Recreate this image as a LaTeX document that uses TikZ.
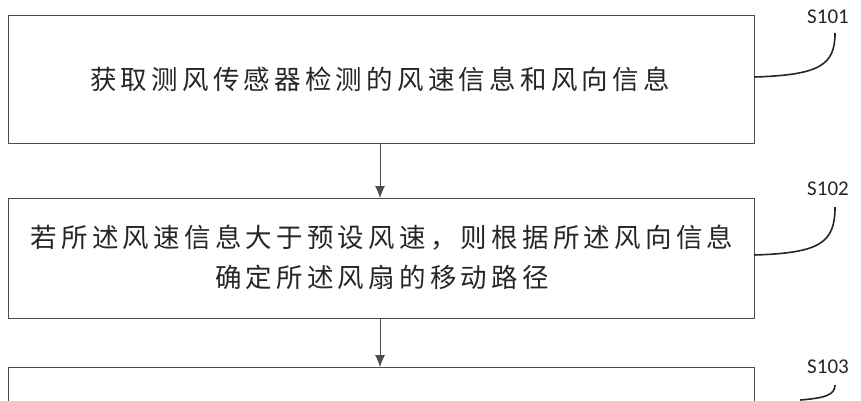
\documentclass[tikz,border=0pt]{standalone}
\usepackage{fontspec}
\usetikzlibrary{arrows.meta}
\newfontfamily\cjk[LetterSpace=16]{Noto Sans CJK SC}
\newfontfamily\lab{Carlito}
\begin{document}
\begin{tikzpicture}[x=1pt,y=-1pt,
  box/.style={draw=black!70,line width=0.8pt},
  txt/.style={font=\cjk\fontsize{26.5}{40}\selectfont,align=center,text=black!85},
  lbl/.style={font=\lab\fontsize{21}{22}\selectfont,text=black!85},
  arr/.style={draw=black!70,line width=0.8pt,-{Latex[length=12pt,width=10pt]}},
  crv/.style={draw=black!85,line width=1.6pt}]
\useasboundingbox (0,0) rectangle (861,400);
\draw[box] (8,15) rectangle (754,143);
\draw[box] (8,198) rectangle (754,318);
\draw[box] (8,367) rectangle (754,420);
\node[txt] (t1) at (380,79) {获取测风传感器检测的风速信息和风向信息};
\node[txt] (t2) at (382,257) {若所述风速信息大于预设风速，则根据所述风向信息\\确定所述风扇的移动路径};
\coordinate (b1) at (380,143); \coordinate (b2) at (380,198);
\coordinate (b3) at (380,318); \coordinate (b4) at (380,367);
\draw[arr] (b1) -- (b2);
\draw[arr] (b3) -- (b4);
\node[lbl] (s1) at (828,17) {S101};
\node[lbl] (s2) at (828,189) {S102};
\node[lbl] (s3) at (828,367) {S103};
\draw[crv] (754,77) .. controls (820,75) and (835,65) .. (835,33);
\draw[crv] (754,255) .. controls (820,253) and (835,243) .. (835,207);
\draw[crv] (800,400) .. controls (825,398) and (835,395) .. (835,385);
\end{tikzpicture}
\end{document}
